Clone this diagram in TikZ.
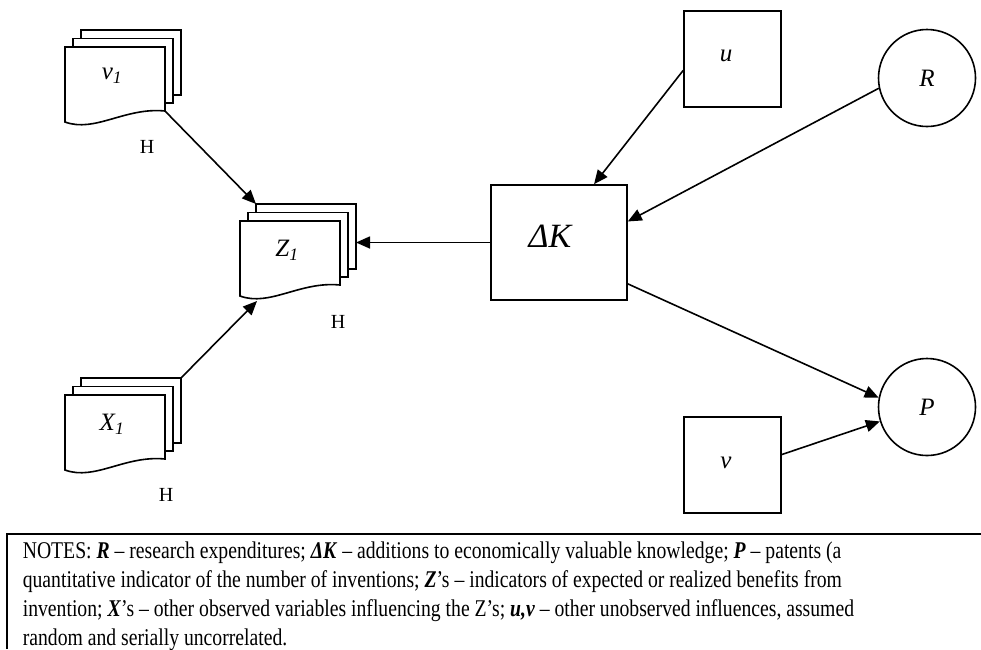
\documentclass[tikz,border=0pt]{standalone}
\usepackage{fontspec}
\setmainfont{Liberation Serif}
\newfontfamily\notesfont[FakeStretch=0.82]{Liberation Serif}
\usetikzlibrary{arrows.meta,calc}
\begin{document}
\begin{tikzpicture}[x=1pt,y=-1pt,
  line width=1.6pt,
  page/.style={draw,fill=white,line join=miter},
  lbl/.style={font=\fontsize{25}{28}\selectfont\itshape, inner sep=0},
  hlbl/.style={font=\fontsize{20}{22}\selectfont, inner sep=0},
  box/.style={draw, rectangle, inner sep=0},
  circ/.style={draw, circle, minimum size=97pt, inner sep=0, font=\fontsize{25}{28}\selectfont\itshape},
  arr/.style={-{Triangle[length=14pt,width=12pt]}, line width=1.6pt},
  pics/docstack/.style={code={
    \draw[page] (16,-17) rectangle (116,48);
    \draw[page] (8,-8.5) rectangle (108,56);
    \draw[page] (0,0) -- (100,0) -- (100,64) .. controls (60,60) and (30,86) .. (0,75) -- cycle;
    \coordinate (-bnw) at (16,-17);
    \coordinate (-bne) at (116,-17);
    \coordinate (-fse) at (100,64);
    \coordinate (-wave) at (17,80);
    \node[lbl] (-t) at (47,29) {#1};
  }}]
\useasboundingbox (0,0) rectangle (981,649);

\pic (v1) at (65,47) {docstack={v\textsubscript{1}}};
\pic (Z1) at (240,221) {docstack={Z\textsubscript{1}}};
\pic (X1) at (65,395) {docstack={X\textsubscript{1}}};

\node[hlbl] (Hv) at (147,147) {H};
\node[hlbl] (HZ) at (338,322) {H};
\node[hlbl] (HX) at (166,495) {H};

\node[box, minimum width=136pt, minimum height=115pt] (dk) at (559,242.5) {};
\node[lbl, font=\fontsize{34}{38}\selectfont\itshape] (dkt) at (550,236) {ΔK};
\node[box, minimum width=97pt, minimum height=96pt] (u) at (732.5,59) {};
\node[lbl] (ut) at (726,56) {u};
\node[box, minimum width=97pt, minimum height=96pt] (v) at (732.5,465) {};
\node[lbl] (vt) at (726,463) {v};
\node[circ] (R) at (927,78) {R};
\node[circ] (P) at (927,407) {P};

\draw[arr] (v1-fse) -- (Z1-bnw);
\draw[arr] (X1-bne) -- (Z1-wave);
\draw[arr] (dk.west) -- (dk.west -| Z1-bne);
\draw[arr] (u.193) -- (dk.59);
\draw[arr] (R.192) -- (dk.17);
\draw[arr] (dk.329) -- (P.169);
\draw[arr] (v.12) -- (P.197);

\coordinate (nbl) at (7,649);
\coordinate (ntl) at (7,534);
\coordinate (ntr) at (981,534);
\draw[line width=1.8pt] (nbl) -- (ntl) -- (ntr);

\node[anchor=north west, align=left, inner sep=0, font=\notesfont\fontsize{24}{29}\selectfont] (notes) at (22,541)
{NOTES: \textbf{\textit{R}} – research expenditures; \textbf{\textit{ΔK}} – additions to economically valuable knowledge; \textbf{\textit{P}} – patents (a\\
quantitative indicator of the number of inventions; \textbf{\textit{Z}}’s – indicators of expected or realized benefits from\\
invention; \textbf{\textit{X}}’s – other observed variables influencing the Z’s; \textbf{\textit{u,v}} – other unobserved influences, assumed\\
random and serially uncorrelated.};
\end{tikzpicture}
\end{document}
